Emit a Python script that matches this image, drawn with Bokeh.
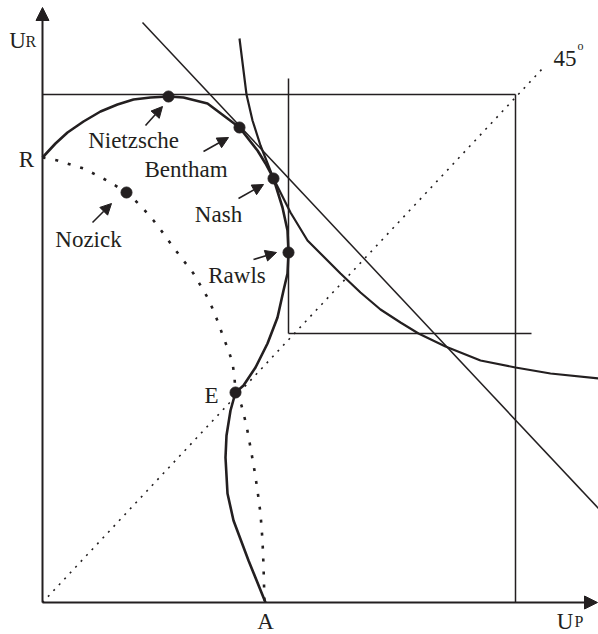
from bokeh.plotting import figure
from bokeh.models import Range1d, Arrow, NormalHead, Label
from bokeh.embed import file_html
from bokeh.resources import INLINE

# ---- data (utility units, origin at the axes' corner) ----
frontier_up = [0, 13, 25, 41, 58, 75, 91, 108, 126, 141, 165, 181, 197, 215, 223, 231, 240, 245, 246,
               245, 241, 235, 225, 213, 201, 193, 188, 184, 183, 185, 191, 206, 223]
frontier_ur = [445, 459, 470, 481, 491, 498, 503, 505, 506, 505, 499, 487, 475, 452, 439, 424, 395, 372, 350,
               329, 312, 285, 259, 235, 217, 210, 192, 167, 145, 109, 82, 42, 0]

nozick_up = [0, 15, 28, 41, 55, 68, 84, 98, 111, 121, 131, 141, 151, 158, 165, 171, 176, 181, 186, 190,
             192, 193, 199, 204, 208, 212, 215, 218, 220, 221, 222]
nozick_ur = [445, 442, 438, 434, 427, 420, 410, 397, 382, 369, 355, 342, 329, 317, 305, 292, 279, 265, 252, 240,
             225, 210, 197, 177, 155, 132, 112, 89, 62, 37, 0]

nash_up = [197, 201, 204, 210, 218, 231, 248, 265, 278, 298, 318, 338, 358, 376, 403, 438, 473, 508, 556]
nash_ur = [564, 532, 508, 482, 457, 424, 390, 362, 349, 329, 310, 293, 280, 269, 256, 242, 235, 229, 224]

util_up = [100, 556]
util_ur = [580, 94]

diag_up = [0, 501]
diag_ur = [0, 535]

max_up = 473          # outer box (maximum attainable utilities)
max_ur = 508
rawls_up = 246        # Rawlsian L-shaped contour corner
rawls_ur = 269
rawls_top = 524
rawls_right = 489

pt_names = ["Nietzsche", "Bentham", "Nash", "Rawls", "Nozick", "E"]
pt_up = [126, 197, 231, 246, 84, 193]
pt_ur = [506, 475, 424, 350, 410, 210]

INK = "#231f20"
FONT = "Liberation Serif"

p = figure(width=598, height=634, output_backend="svg", toolbar_location=None,
           x_range=Range1d(-42, 556), y_range=Range1d(-32, 602),
           min_border=0, min_border_left=0, min_border_right=0,
           min_border_top=0, min_border_bottom=0)
p.axis.visible = False
p.grid.visible = False
p.outline_line_color = None
p.background_fill_color = "white"
p.border_fill_color = "white"

# boxes
p.line([0, max_up], [max_ur, max_ur], line_color=INK, line_width=1.5)
p.line([max_up, max_up], [0, max_ur], line_color=INK, line_width=1.5)
p.line([rawls_up, rawls_up], [rawls_top, rawls_ur], line_color=INK, line_width=1.5)
p.line([rawls_up, rawls_right], [rawls_ur, rawls_ur], line_color=INK, line_width=1.5)

# 45 degree line
p.line(diag_up, diag_ur, line_color=INK, line_width=1.6, line_dash="2 6")

# utilitarian line
p.line(util_up, util_ur, line_color=INK, line_width=1.5)

# Nash contour
p.line(nash_up, nash_ur, line_color=INK, line_width=2.2)

# Nozick dotted frontier
p.line(nozick_up, nozick_ur, line_color=INK, line_width=2.6, line_dash="3 10")

# utility possibility frontier
p.line(frontier_up, frontier_ur, line_color=INK, line_width=2.6)

# points
p.scatter(pt_up, pt_ur, size=11, marker="circle", fill_color=INK, line_color=INK)

# axes with arrowheads
p.add_layout(Arrow(end=NormalHead(size=13, fill_color=INK, line_color=INK),
                   x_start=0, y_start=0, x_end=0, y_end=595, line_width=2, line_color=INK))
p.add_layout(Arrow(end=NormalHead(size=13, fill_color=INK, line_color=INK),
                   x_start=0, y_start=0, x_end=555, y_end=0, line_width=2, line_color=INK))

# label pointer arrows
for xs, ys, xe, ye in [(103, 477, 120, 496), (161, 451, 186, 465), (196, 404, 221, 418),
                       (211, 343, 234, 350), (50, 380, 69, 399)]:
    p.add_layout(Arrow(end=NormalHead(size=11, fill_color=INK, line_color=INK),
                       x_start=xs, y_start=ys, x_end=xe, y_end=ye, line_width=1.6, line_color=INK))

def lab(x, y, t, size="23px", align="center"):
    p.add_layout(Label(x=x, y=y, text=t, text_font=FONT, text_font_size=size,
                       text_color=INK, text_align=align, text_baseline="alphabetic"))

lab(91, 462, "Nietzsche")
lab(143.5, 433, "Bentham")
lab(176, 388, "Nash")
lab(194.5, 327, "Rawls")
lab(46, 363, "Nozick")
lab(169, 207, "E")
lab(-16, 443, "R")
lab(223, -19, "A")
lab(-25, 562, "U")
lab(-17, 561, "R", size="16px", align="left")
lab(522.5, -19, "U")
lab(532, -19, "P", size="16px", align="left")
lab(522.5, 544, "45")
lab(535, 557, "o", size="12px", align="left")

open("out.html", "w").write(file_html(p, INLINE))
